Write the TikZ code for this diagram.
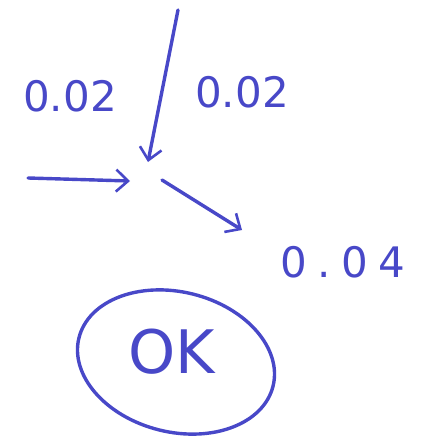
\documentclass[tikz,border=0pt]{standalone}
\usepackage{fontspec}
\setmainfont{DejaVu Sans}
\usetikzlibrary{arrows.meta,shapes.geometric}
\definecolor{ink}{RGB}{72,72,200}
\tikzset{
  pen/.style={draw=ink, line width=3.4pt, line cap=round},
  flow/.style={pen, -{Straight Barb[length=12pt,width=22pt,line width=2.6pt]}},
  val/.style={text=ink, font=\fontsize{42}{42}\selectfont},
  hub/.style={circle, minimum size=28pt, inner sep=0pt}
}
\begin{document}
\begin{tikzpicture}[x=1pt,y=-1pt]
  \useasboundingbox (0,0) rectangle (429,441);
  % junction where the flows meet
  \node[hub] (j) at (145,176) {};
  % free ends of the flows
  \coordinate (inL) at (28,178);
  \coordinate (inT) at (178,10);
  \coordinate (outS) at (162,180);
  \coordinate (outR) at (242,230);
  % flows
  \draw[flow] (inL) -- (130,181);
  \draw[flow] (inT) -- (148,162);
  \draw[flow] (outS) -- (outR);
  % values
  \node[val] (vL) at (70,96) {0.02};
  \node[val] (vT) at (242,92) {0.02};
  \node[val, font=\fontsize{42}{42}\selectfont\addfontfeature{LetterSpace=25}] (vR) at (343,262) {0.04};
  % verdict ring and word
  \node[pen, ellipse, rotate=-14, minimum width=200pt, minimum height=140pt] (ring) at (176,362) {};
  \node[val, font=\fontsize{60}{60}\selectfont] (ok) at (172,352) {OK};
\end{tikzpicture}
\end{document}
